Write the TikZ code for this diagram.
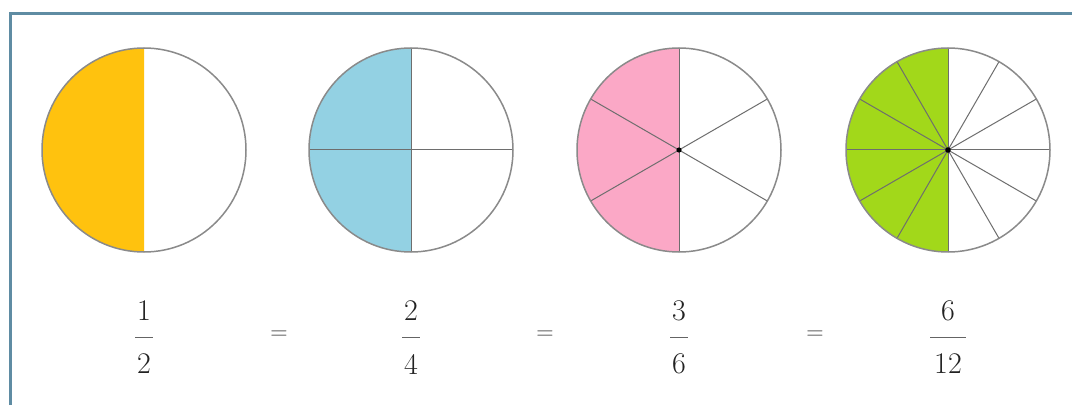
\documentclass[tikz,border=0pt]{standalone}
\usepackage{xcolor}
\usepackage{tikz}
\definecolor{FRFrame}{HTML}{5F8CA3}
\definecolor{FRRim}{HTML}{8A8A8A}
\definecolor{FRInk}{HTML}{222222}
\definecolor{FRGold}{HTML}{FFC20E}
\definecolor{FRSky}{HTML}{93D1E3}
\definecolor{FRPink}{HTML}{FBA8C6}
\definecolor{FRLime}{HTML}{A2D81A}
\tikzset{
  rim/.style={draw=FRRim,line width=1.5pt},
  spoke/.style={draw=FRRim!80!black,line width=1pt},
  digit/.style={inner sep=0pt,text=FRInk,font=\fontsize{30}{33}\selectfont},
  equal/.style={inner sep=0pt,text=FRInk!85,font=\fontsize{24}{26}\selectfont},
  fracbar/.style={draw=FRInk!70,line width=1pt}
}
\begin{document}
\begin{tikzpicture}[x=1pt,y=1pt]
\path[use as bounding box] (0,0) rectangle (1072,405);
\fill[white] (0,0) rectangle (1072,405);
\draw[FRFrame,line width=3pt] (10,0) -- (10,391) -- (1072,391);
% halves
\fill[FRGold] (144,255) -- ++(90:102) arc (90:270:102) -- cycle;
\draw[rim] (144,255) circle (102);
\node[digit] (half-num) at (144,94) {1};
\draw[fracbar] (135,68) -- (153,68);
\node[digit] (half-den) at (144,41) {2};
\node[equal] (eq-a) at (279,70) {=};
% quarters
\fill[FRSky] (411,255) -- ++(90:102) arc (90:270:102) -- cycle;
\draw[spoke] (411,255) -- ++(90:102);
\draw[spoke] (411,255) -- ++(270:102);
\draw[spoke] (411,255) -- ++(0:102);
\draw[spoke] (411,255) -- ++(180:102);
\draw[rim] (411,255) circle (102);
\node[digit] (quarter-num) at (411,94) {2};
\draw[fracbar] (402,68) -- (420,68);
\node[digit] (quarter-den) at (411,41) {4};
\node[equal] (eq-b) at (545,70) {=};
% sixths
\fill[FRPink] (679,255) -- ++(90:102) arc (90:270:102) -- cycle;
\foreach \a in {30,90,150,210,270,330}
  \draw[spoke] (679,255) -- ++(\a:102);
\draw[rim] (679,255) circle (102);
\fill[black] (679,255) circle (2.6);
\node[digit] (sixth-num) at (679,94) {3};
\draw[fracbar] (670,68) -- (688,68);
\node[digit] (sixth-den) at (679,41) {6};
\node[equal] (eq-c) at (815,70) {=};
% twelfths
\fill[FRLime] (948,255) -- ++(90:102) arc (90:270:102) -- cycle;
\foreach \a in {0,30,...,330}
  \draw[spoke] (948,255) -- ++(\a:102);
\draw[rim] (948,255) circle (102);
\fill[black] (948,255) circle (2.8);
\node[digit] (twelfth-num) at (948,94) {6};
\draw[fracbar] (930,68) -- (966,68);
\node[digit] (twelfth-den) at (948,41) {12};
\end{tikzpicture}
\end{document}
